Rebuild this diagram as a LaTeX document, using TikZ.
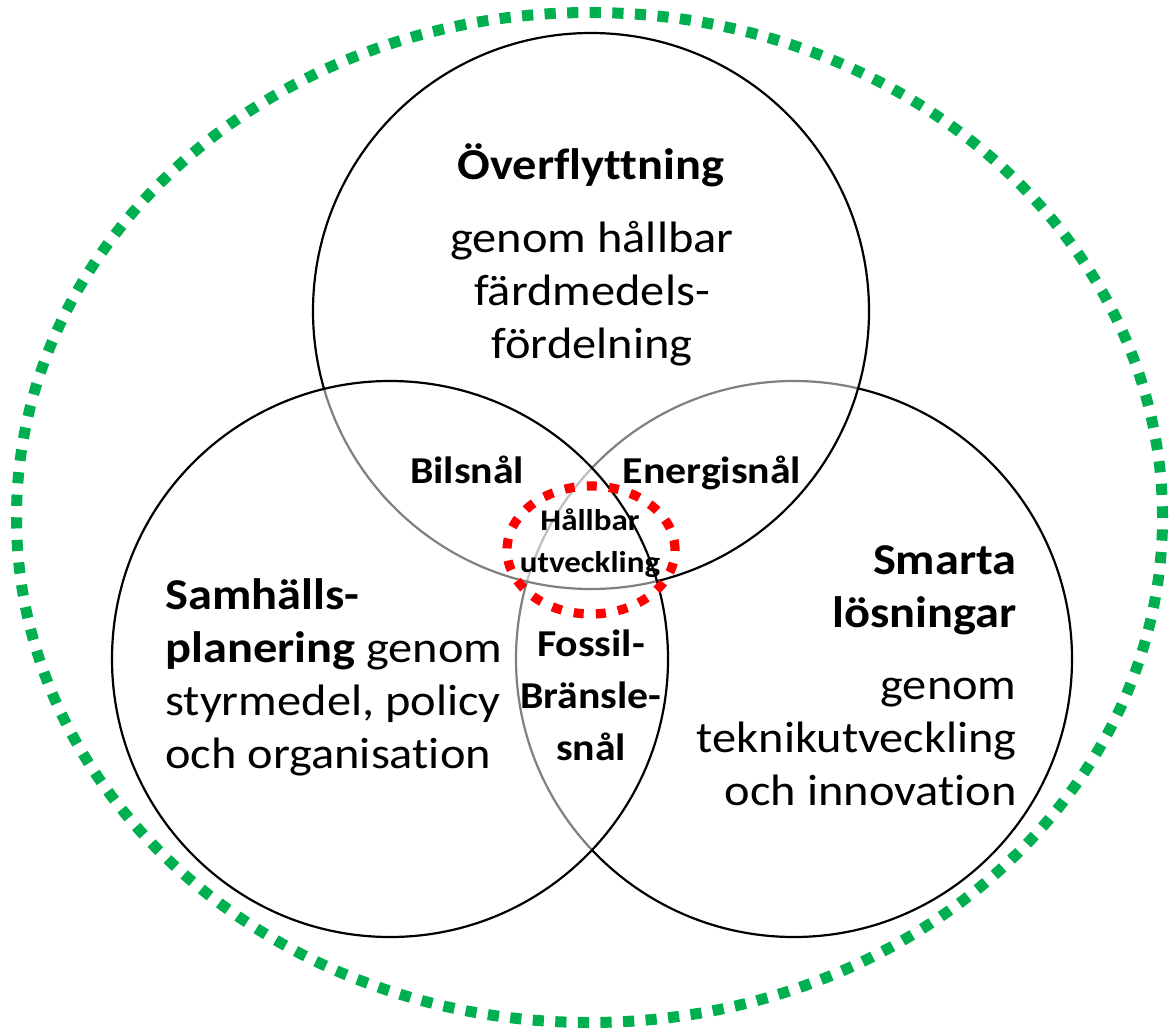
\documentclass[tikz,border=0pt]{standalone}
\usepackage{fontspec}
\setmainfont{Carlito}[FakeStretch=1.1, Ligatures=NoCommon]
\definecolor{sgreen}{RGB}{0,176,80}

\begin{document}
\begin{tikzpicture}[
  x=0.5pt, y=-0.5pt,
  ring/.style={circle, draw, line width=1.1pt, fill=white, fill opacity=0.5, minimum size=278pt, inner sep=0pt},
  head/.style={font=\fontsize{22pt}{26.5pt}\selectfont\bfseries, inner sep=0pt, anchor=base},
  body/.style={font=\fontsize{22pt}{26.5pt}\selectfont, inner sep=0pt, anchor=base},
  overlap/.style={font=\fontsize{19pt}{26pt}\selectfont\bfseries, align=center, inner sep=0pt, anchor=base},
  core/.style={font=\fontsize{15pt}{21pt}\selectfont\bfseries, align=center, inner sep=0pt, anchor=base},
  greendots/.style={draw=sgreen, line width=5.5pt, dash pattern=on 5.6pt off 5.7pt},
  reddots/.style={draw=red, line width=4.6pt, dash pattern=on 5pt off 6.1pt}
]
\useasboundingbox (0,0) rectangle (1172,1032);

% Outer boundary
\draw[greendots] (589.5,517.5) ellipse [x radius=286.5pt, y radius=252.5pt];

% The three circles
\node[ring] (smart) at (794,659) {};
\node[ring] (transfer) at (591,311) {};
\node[ring] (planning) at (390,659) {};

% Main texts (base = last line)
\node[head] (transferT) at (591,180) {Överflyttning};
\node[body, align=center] (transferB) at (592,358) {genom hållbar\\färdmedels-\\fördelning};
\node[body, align=left, anchor=base west] (planningT) at (165,768) {\textbf{Samhälls-}\\\textbf{planering} genom\\styrmedel, policy\\och organisation};
\node[head, align=right, anchor=base east] (smartT) at (1017,627) {Smarta\\lösningar};
\node[body, align=right, anchor=base east] (smartB) at (1017,805) {genom\\teknikutveckling\\och innovation};

% Overlaps
\node[overlap] (car) at (467,483) {Bilsnål};
\node[overlap] (energy) at (712,483) {Energisnål};
\node[overlap] (fossil) at (591,760) {Fossil-\\Bränsle-\\snål};

% Centre
\draw[reddots] (591,550) ellipse [x radius=42pt, y radius=32pt];
\node[core] (core) at (590,572) {Hållbar\\utveckling};

\end{tikzpicture}
\end{document}
